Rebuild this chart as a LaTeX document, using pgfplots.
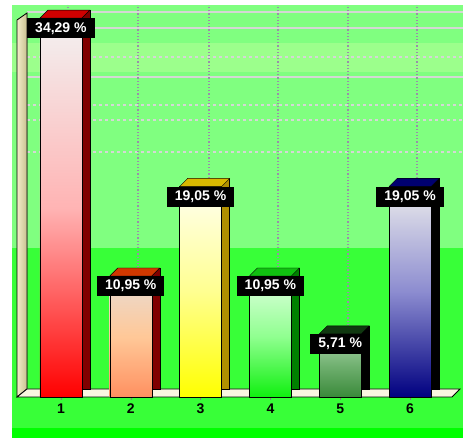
\documentclass[border=0pt]{standalone}
\usepackage{fontspec}
\setmainfont{Liberation Sans}
\usepackage{pgfplots}
\pgfplotsset{compat=1.18}

\definecolor{bgtop}{HTML}{80FF80}
\definecolor{bgband}{HTML}{9CFF8C}
\definecolor{bglow}{HTML}{38FF38}
\definecolor{bgbot}{HTML}{00FF00}
\definecolor{gridc}{HTML}{D4D8D4}
\definecolor{vgrid}{HTML}{9890A8}
\definecolor{wallL}{HTML}{F2ECC8}
\definecolor{wallR}{HTML}{C8C090}
\definecolor{floorc}{HTML}{FAF6E0}
% bar colours: front top / middle / bottom, side, cap
\definecolor{aT}{HTML}{F2F2F2}\definecolor{aM}{HTML}{FFB4B4}\definecolor{aB}{HTML}{FF0000}
\definecolor{aS}{HTML}{800000}\definecolor{aC}{HTML}{D00000}
\definecolor{bT}{HTML}{E8DCD4}\definecolor{bM}{HTML}{FFC898}\definecolor{bB}{HTML}{FF9060}
\definecolor{bS}{HTML}{800000}\definecolor{bC}{HTML}{D03800}
\definecolor{cT}{HTML}{FFFFF0}\definecolor{cM}{HTML}{FFFF90}\definecolor{cB}{HTML}{FFFF00}
\definecolor{cS}{HTML}{B09000}\definecolor{cC}{HTML}{D8B800}
\definecolor{dT}{HTML}{E0FFE0}\definecolor{dM}{HTML}{90FF90}\definecolor{dB}{HTML}{10F010}
\definecolor{dS}{HTML}{008000}\definecolor{dC}{HTML}{10C010}
\definecolor{eT}{HTML}{B0D8B0}\definecolor{eM}{HTML}{70B070}\definecolor{eB}{HTML}{3A8A3A}
\definecolor{eS}{HTML}{000000}\definecolor{eC}{HTML}{103810}
\definecolor{fT}{HTML}{ECECEC}\definecolor{fM}{HTML}{8C8CD0}\definecolor{fB}{HTML}{000080}
\definecolor{fS}{HTML}{000000}\definecolor{fC}{HTML}{000070}

% top face of a bar, drawn at the bar's top front centre
\pgfdeclareplotmark{cap}{%
  \pgfpathmoveto{\pgfqpoint{-21pt}{0pt}}%
  \pgfpathlineto{\pgfqpoint{-13pt}{8pt}}%
  \pgfpathlineto{\pgfqpoint{29pt}{8pt}}%
  \pgfpathlineto{\pgfqpoint{21pt}{0pt}}%
  \pgfpathclose
  \pgfusepathqfillstroke}

\pgfplotsset{
  side/.style={ybar, bar width=42pt, bar shift=0pt, xshift=8pt, yshift=8pt,
    draw=black, fill=#1},
  front/.style n args={3}{ybar, bar width=42pt, bar shift=0pt, draw=black,
    top color=#1, bottom color=#3, middle color=#2},
  top/.style={only marks, mark=cap, mark options={fill=#1, draw=black},
    nodes near coords={\pgfmathprintnumber[assume math mode=true, use comma, fixed, fixed zerofill, precision=2]{\pgfplotspointmeta}~\%},
    point meta=y,
    every node near coord/.style={anchor=north, fill=black, text=white,
      font=\fontsize{14}{14}\selectfont\bfseries, inner xsep=8pt, inner ysep=4pt}},
}

\begin{document}
\begin{tikzpicture}[x=1pt,y=1pt]
% panel
\fill[white] (0,0) rectangle (463,438);
\fill[bglow] (12,0) rectangle (463,190);
\fill[bgtop] (12,190) rectangle (463,433);
\fill[bgband] (12,366) rectangle (463,395);
\fill[bgbot] (12,0) rectangle (463,10);
% back wall grid
\foreach \y in {426,410,361} \draw[gridc, line width=1.2pt] (27,\y) -- (463,\y);
\foreach \y in {381,333,318,286} \draw[gridc, dashed, line width=1.2pt] (27,\y) -- (463,\y);
\foreach \x in {68,138,209,278,348,417}
  \draw[vgrid, dotted, line width=1.2pt] (\x,49) -- (\x,433);
% left wall and floor
\filldraw[left color=wallL, right color=wallR, draw=black, line width=0.8pt]
  (17,41) -- (17,418) -- (27,425) -- (27,49) -- cycle;
\filldraw[fill=floorc, draw=black, line width=0.8pt]
  (17,41) -- (452,41) -- (460,49) -- (27,49) -- cycle;

\begin{axis}[
  at={(26pt,41pt)}, anchor=south west,
  scale only axis, width=419pt, height=382pt,
  xmin=0.5, xmax=6.5, ymin=0, ymax=34.57,
  clip=false,
  axis line style={draw=none},
  ytick=\empty,
  xtick={1,2,3,4,5,6},
  xticklabels={1,2,3,4,5,6},
  xtick pos=bottom,
  tick align=outside,
  major tick length=3pt,
  tick style={draw=gray, thin},
  x tick label style={font=\fontsize{14}{14}\selectfont\bfseries, text=black},
]
\addplot[side=aS] coordinates {(1,34.29)};
\addplot[front={aT}{aM}{aB}] coordinates {(1,34.29)};
\addplot[top=aC] coordinates {(1,34.29)};

\addplot[side=bS] coordinates {(2,10.95)};
\addplot[front={bT}{bM}{bB}] coordinates {(2,10.95)};
\addplot[top=bC] coordinates {(2,10.95)};

\addplot[side=cS] coordinates {(3,19.05)};
\addplot[front={cT}{cM}{cB}] coordinates {(3,19.05)};
\addplot[top=cC] coordinates {(3,19.05)};

\addplot[side=dS] coordinates {(4,10.95)};
\addplot[front={dT}{dM}{dB}] coordinates {(4,10.95)};
\addplot[top=dC] coordinates {(4,10.95)};

\addplot[side=eS] coordinates {(5,5.71)};
\addplot[front={eT}{eM}{eB}] coordinates {(5,5.71)};
\addplot[top=eC] coordinates {(5,5.71)};

\addplot[side=fS] coordinates {(6,19.05)};
\addplot[front={fT}{fM}{fB}] coordinates {(6,19.05)};
\addplot[top=fC] coordinates {(6,19.05)};
\end{axis}
\pgfresetboundingbox
\useasboundingbox (0,0) rectangle (463,438);
\end{tikzpicture}
\end{document}
